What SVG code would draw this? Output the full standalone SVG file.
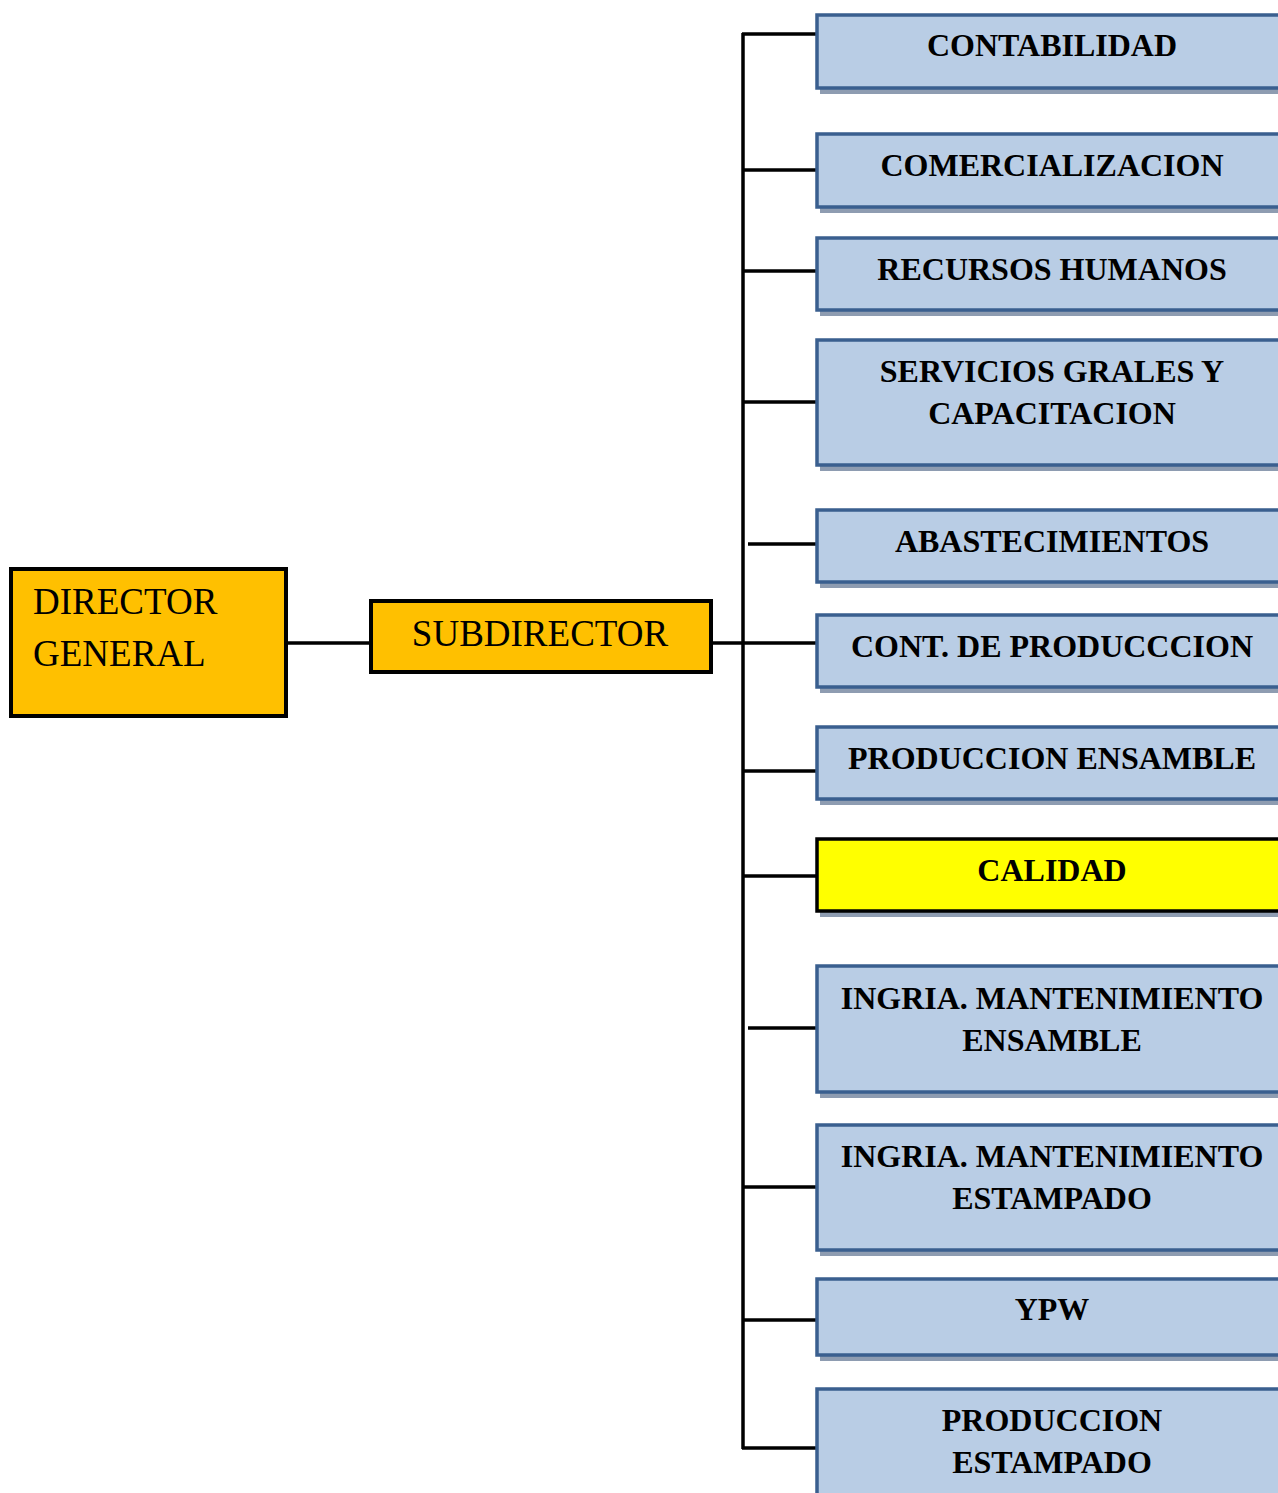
<svg xmlns="http://www.w3.org/2000/svg" width="1278" height="1493" viewBox="0 0 1278 1493">
<style>
.shadow{fill:#8e9cb1}
.dept{fill:#b9cde5;stroke:#3a5f8f;stroke-width:3.5}
.qual{fill:#ffff00;stroke:#000;stroke-width:3.5}
.top{fill:#ffc000;stroke:#000;stroke-width:4}
.lbl{font-family:"Liberation Serif",serif;font-weight:bold;font-size:32px;fill:#000;text-anchor:middle}
.big{font-family:"Liberation Serif",serif;font-size:37px;fill:#000}
.conn{stroke:#000;stroke-width:3.5;fill:none}
</style>
<rect width="1278" height="1493" fill="#fff"/>
<g id="connectors">
<line class="conn" x1="743" y1="33" x2="743" y2="1449"/>
<line class="conn" x1="286" y1="643" x2="370" y2="643"/>
<line class="conn" x1="711" y1="643" x2="817" y2="643"/>
<line class="conn" x1="742" y1="34" x2="817" y2="34"/>
<line class="conn" x1="743" y1="170" x2="817" y2="170"/>
<line class="conn" x1="743" y1="271" x2="817" y2="271"/>
<line class="conn" x1="743" y1="402" x2="817" y2="402"/>
<line class="conn" x1="748" y1="544" x2="817" y2="544"/>
<line class="conn" x1="743" y1="771" x2="817" y2="771"/>
<line class="conn" x1="743" y1="876" x2="817" y2="876"/>
<line class="conn" x1="748" y1="1028" x2="817" y2="1028"/>
<line class="conn" x1="743" y1="1187" x2="817" y2="1187"/>
<line class="conn" x1="743" y1="1320" x2="817" y2="1320"/>
<line class="conn" x1="742" y1="1448" x2="817" y2="1448"/>
</g>
<g id="director">
<rect class="top" x="11" y="569" width="275" height="147"/>
<text class="big" x="33" y="614">DIRECTOR</text>
<text class="big" x="33" y="666">GENERAL</text>
</g>
<g id="subdirector">
<rect class="top" x="371" y="601" width="340" height="71"/>
<text class="big" x="540" y="646" text-anchor="middle">SUBDIRECTOR</text>
</g>
<g id="contabilidad">
<rect class="shadow" x="820" y="20" width="470" height="74"/>
<rect class="dept" x="817" y="15" width="470" height="73"/>
<text class="lbl" x="1052" y="56">CONTABILIDAD</text>
</g>
<g id="comercializacion">
<rect class="shadow" x="820" y="139" width="470" height="74"/>
<rect class="dept" x="817" y="134" width="470" height="73"/>
<text class="lbl" x="1052" y="176">COMERCIALIZACION</text>
</g>
<g id="recursos">
<rect class="shadow" x="820" y="243" width="470" height="73"/>
<rect class="dept" x="817" y="238" width="470" height="72"/>
<text class="lbl" x="1052" y="280">RECURSOS HUMANOS</text>
</g>
<g id="servicios">
<rect class="shadow" x="820" y="345" width="470" height="126"/>
<rect class="dept" x="817" y="340" width="470" height="125"/>
<text class="lbl" x="1052" y="382">SERVICIOS GRALES Y</text>
<text class="lbl" x="1052" y="424">CAPACITACION</text>
</g>
<g id="abastecimientos">
<rect class="shadow" x="820" y="515" width="470" height="73"/>
<rect class="dept" x="817" y="510" width="470" height="72"/>
<text class="lbl" x="1052" y="552">ABASTECIMIENTOS</text>
</g>
<g id="contproduccion">
<rect class="shadow" x="820" y="620" width="470" height="73"/>
<rect class="dept" x="817" y="615" width="470" height="72"/>
<text class="lbl" x="1052" y="657">CONT. DE PRODUCCCION</text>
</g>
<g id="prodensamble">
<rect class="shadow" x="820" y="732" width="470" height="73"/>
<rect class="dept" x="817" y="727" width="470" height="72"/>
<text class="lbl" x="1052" y="769">PRODUCCION ENSAMBLE</text>
</g>
<g id="calidad">
<rect class="shadow" x="820" y="844" width="470" height="73"/>
<rect class="qual" x="817" y="839" width="470" height="72"/>
<text class="lbl" x="1052" y="881">CALIDAD</text>
</g>
<g id="mantensamble">
<rect class="shadow" x="820" y="971" width="470" height="127"/>
<rect class="dept" x="817" y="966" width="470" height="126"/>
<text class="lbl" x="1052" y="1009">INGRIA. MANTENIMIENTO</text>
<text class="lbl" x="1052" y="1051">ENSAMBLE</text>
</g>
<g id="mantestampado">
<rect class="shadow" x="820" y="1130" width="470" height="126"/>
<rect class="dept" x="817" y="1125" width="470" height="125"/>
<text class="lbl" x="1052" y="1167">INGRIA. MANTENIMIENTO</text>
<text class="lbl" x="1052" y="1209">ESTAMPADO</text>
</g>
<g id="ypw">
<rect class="shadow" x="820" y="1284" width="470" height="77"/>
<rect class="dept" x="817" y="1279" width="470" height="76"/>
<text class="lbl" x="1052" y="1320">YPW</text>
</g>
<g id="prodestampado">
<rect class="shadow" x="820" y="1394" width="470" height="110"/>
<rect class="dept" x="817" y="1389" width="470" height="110"/>
<text class="lbl" x="1052" y="1431">PRODUCCION</text>
<text class="lbl" x="1052" y="1473">ESTAMPADO</text>
</g>
</svg>
